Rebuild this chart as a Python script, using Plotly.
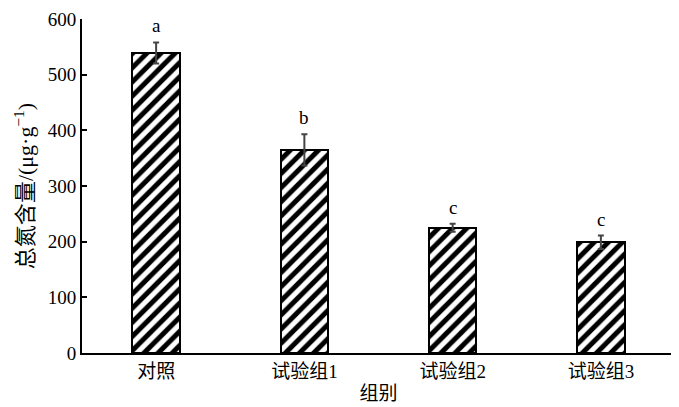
import plotly.graph_objects as go

categories = ["对照", "试验组1", "试验组2", "试验组3"]
values = [539, 365, 225, 199]
errors = [19, 28, 7, 12]
letters = ["a", "b", "c", "c"]
y_ticks = [0, 100, 200, 300, 400, 500, 600]

FONT = "Liberation Serif, Noto Sans CJK SC"

fig = go.Figure()
fig.add_trace(go.Bar(
    x=categories, y=values, width=0.32,
    marker=dict(color="white", line=dict(color="black", width=2),
                pattern=dict(shape="/", fgcolor="black", bgcolor="white", size=10,
                             solidity=0.5, fgopacity=1)),
    error_y=dict(type="data", array=errors, visible=True, color="#444444", thickness=2, width=3),
    showlegend=False,
))
for c, v, e, t in zip(categories, values, errors, letters):
    fig.add_annotation(x=c, y=v + e, text=t, showarrow=False, yanchor="bottom", yshift=4,
                       font=dict(family=FONT, size=19, color="black"))

fig.update_layout(
    width=671, height=399,
    margin=dict(l=74, r=4, t=11, b=54),
    plot_bgcolor="white", paper_bgcolor="white",
    font=dict(family=FONT, size=19, color="black"),
    xaxis=dict(range=[-0.5, 3.5], showline=True, linecolor="black", linewidth=2,
               ticks="", automargin=False, ticklabeloverflow="allow",
               title=dict(text="组别", standoff=6, font=dict(size=19, family=FONT)),
               tickfont=dict(size=19, family=FONT)),
    yaxis=dict(range=[0, 600], tickvals=y_ticks, showline=True, linecolor="black", linewidth=2,
               ticks="inside", ticklen=5, tickwidth=2, tickcolor="black", showgrid=False,
               zeroline=False, automargin=False, ticklabeloverflow="allow",
               tickfont=dict(size=19, family=FONT),
               title=dict(text="总氮含量/(μg·g<sup>−1</sup>)", standoff=8,
                          font=dict(size=22, family=FONT, color="black"))),
    bargap=0,
)
fig.write_html("out.html")
